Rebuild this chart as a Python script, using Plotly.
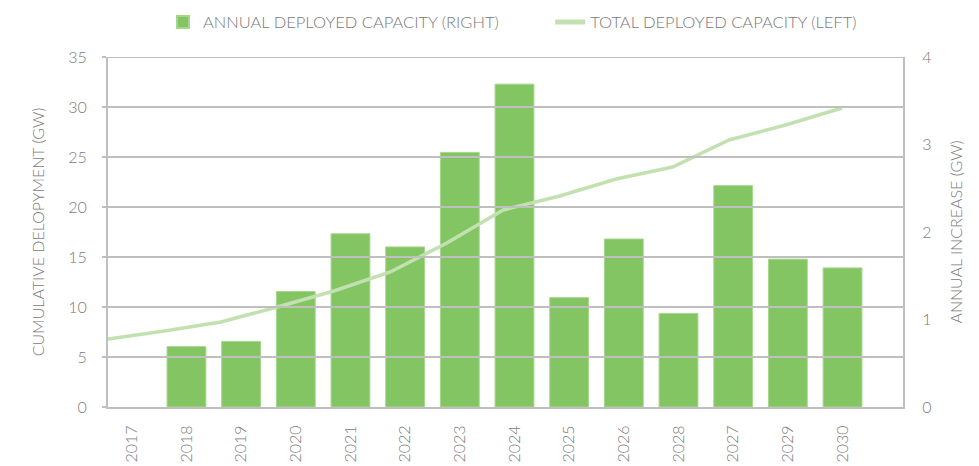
import plotly.graph_objects as go

years = ["2017", "2018", "2019", "2020", "2021", "2022", "2023", "2024",
         "2025", "2026", "2028", "2027", "2029", "2030"]
annual_gw = [None, 0.69, 0.75, 1.32, 1.98, 1.83, 2.91, 3.69,
             1.25, 1.92, 1.07, 2.53, 1.69, 1.59]
total_gw = [6.8, 7.6, 8.5, 10.0, 11.6, 13.5, 16.4, 19.7,
            21.1, 22.8, 24.0, 26.7, 28.2, 29.9]
left_ticks = [0, 5, 10, 15, 20, 25, 30, 35]
right_ticks = [0, 1, 2, 3, 4]

GRID = "#bfbfbf"
TXT = "#7a7a7a"
BAR = "#83c563"
LINE = "#c3e1b0"
FONT = "Lato"
W = 300

fig = go.Figure()
# anchor trace so the main x/y subplot exists
fig.add_trace(go.Scatter(x=[years[0]], y=[None], xaxis="x", yaxis="y",
                         showlegend=False, hoverinfo="skip", mode="lines"))
fig.add_trace(go.Bar(
    x=years, y=annual_gw, name="ANNUAL DEPLOYED CAPACITY (RIGHT)",
    marker=dict(color=BAR, line=dict(color="#a6d68c", width=1)),
    yaxis="y2", xaxis="x", legend="legend",
))
fig.add_trace(go.Scatter(
    x=list(range(len(total_gw))), y=total_gw, name="TOTAL DEPLOYED CAPACITY (LEFT)",
    mode="lines", line=dict(color=LINE, width=3.5),
    yaxis="y", xaxis="x2", legend="legend2",
))

# gridlines drawn above bars
for v in left_ticks[1:]:
    fig.add_shape(type="line", xref="paper", yref="y", x0=-0.004, x1=1.0,
                  y0=v, y1=v, line=dict(color=GRID, width=2), layer="above")

leg_common = dict(orientation="h", xref="container", yref="container",
                  y=0.99, xanchor="left", yanchor="top",
                  bgcolor="rgba(0,0,0,0)",
                  font=dict(size=16.5, color=TXT, weight=W),
                  itemsizing="constant")

fig.update_layout(
    width=979, height=466,
    margin=dict(l=108, r=76, t=57, b=59, autoexpand=False),
    paper_bgcolor="white", plot_bgcolor="white",
    font=dict(family=FONT, color=TXT, size=16, weight=W),
    bargap=0.29,
    showlegend=True,
    legend=dict(x=0.1665, **leg_common),
    legend2=dict(x=0.562, **leg_common),
    xaxis=dict(type="category", range=[-0.435, 14.106], tickangle=-90,
               showgrid=False, showline=True, linecolor=GRID, linewidth=2,
               ticks="", ticklabelstandoff=10,
               tickfont=dict(size=16, color=TXT, weight=W), zeroline=False),
    xaxis2=dict(overlaying="x", anchor="y", range=[0, 14.08], visible=False),
    yaxis=dict(range=[0, 35], tickvals=left_ticks, showgrid=False,
               showline=True, linecolor=GRID, linewidth=2, zeroline=False,
               ticks="outside", ticklen=4, tickcolor=GRID, tickwidth=2,
               ticklabelstandoff=12,
               title=dict(text="CUMULATIVE DELOPYMENT (GW)",
                          font=dict(size=16, color=TXT, weight=W), standoff=20),
               tickfont=dict(size=16, color=TXT, weight=W)),
    yaxis2=dict(range=[0, 4], tickvals=right_ticks, overlaying="y", side="right",
                anchor="x", showgrid=False, showline=True, linecolor=GRID, linewidth=2,
                zeroline=False, ticks="", ticklabelstandoff=14,
                title=dict(text="ANNUAL INCREASE (GW)",
                           font=dict(size=16, color=TXT, weight=W), standoff=20),
                tickfont=dict(size=16, color=TXT, weight=W)),
)

fig.write_html("out.html", config={"displayModeBar": False},
               post_script="document.body.style.margin='0';")
